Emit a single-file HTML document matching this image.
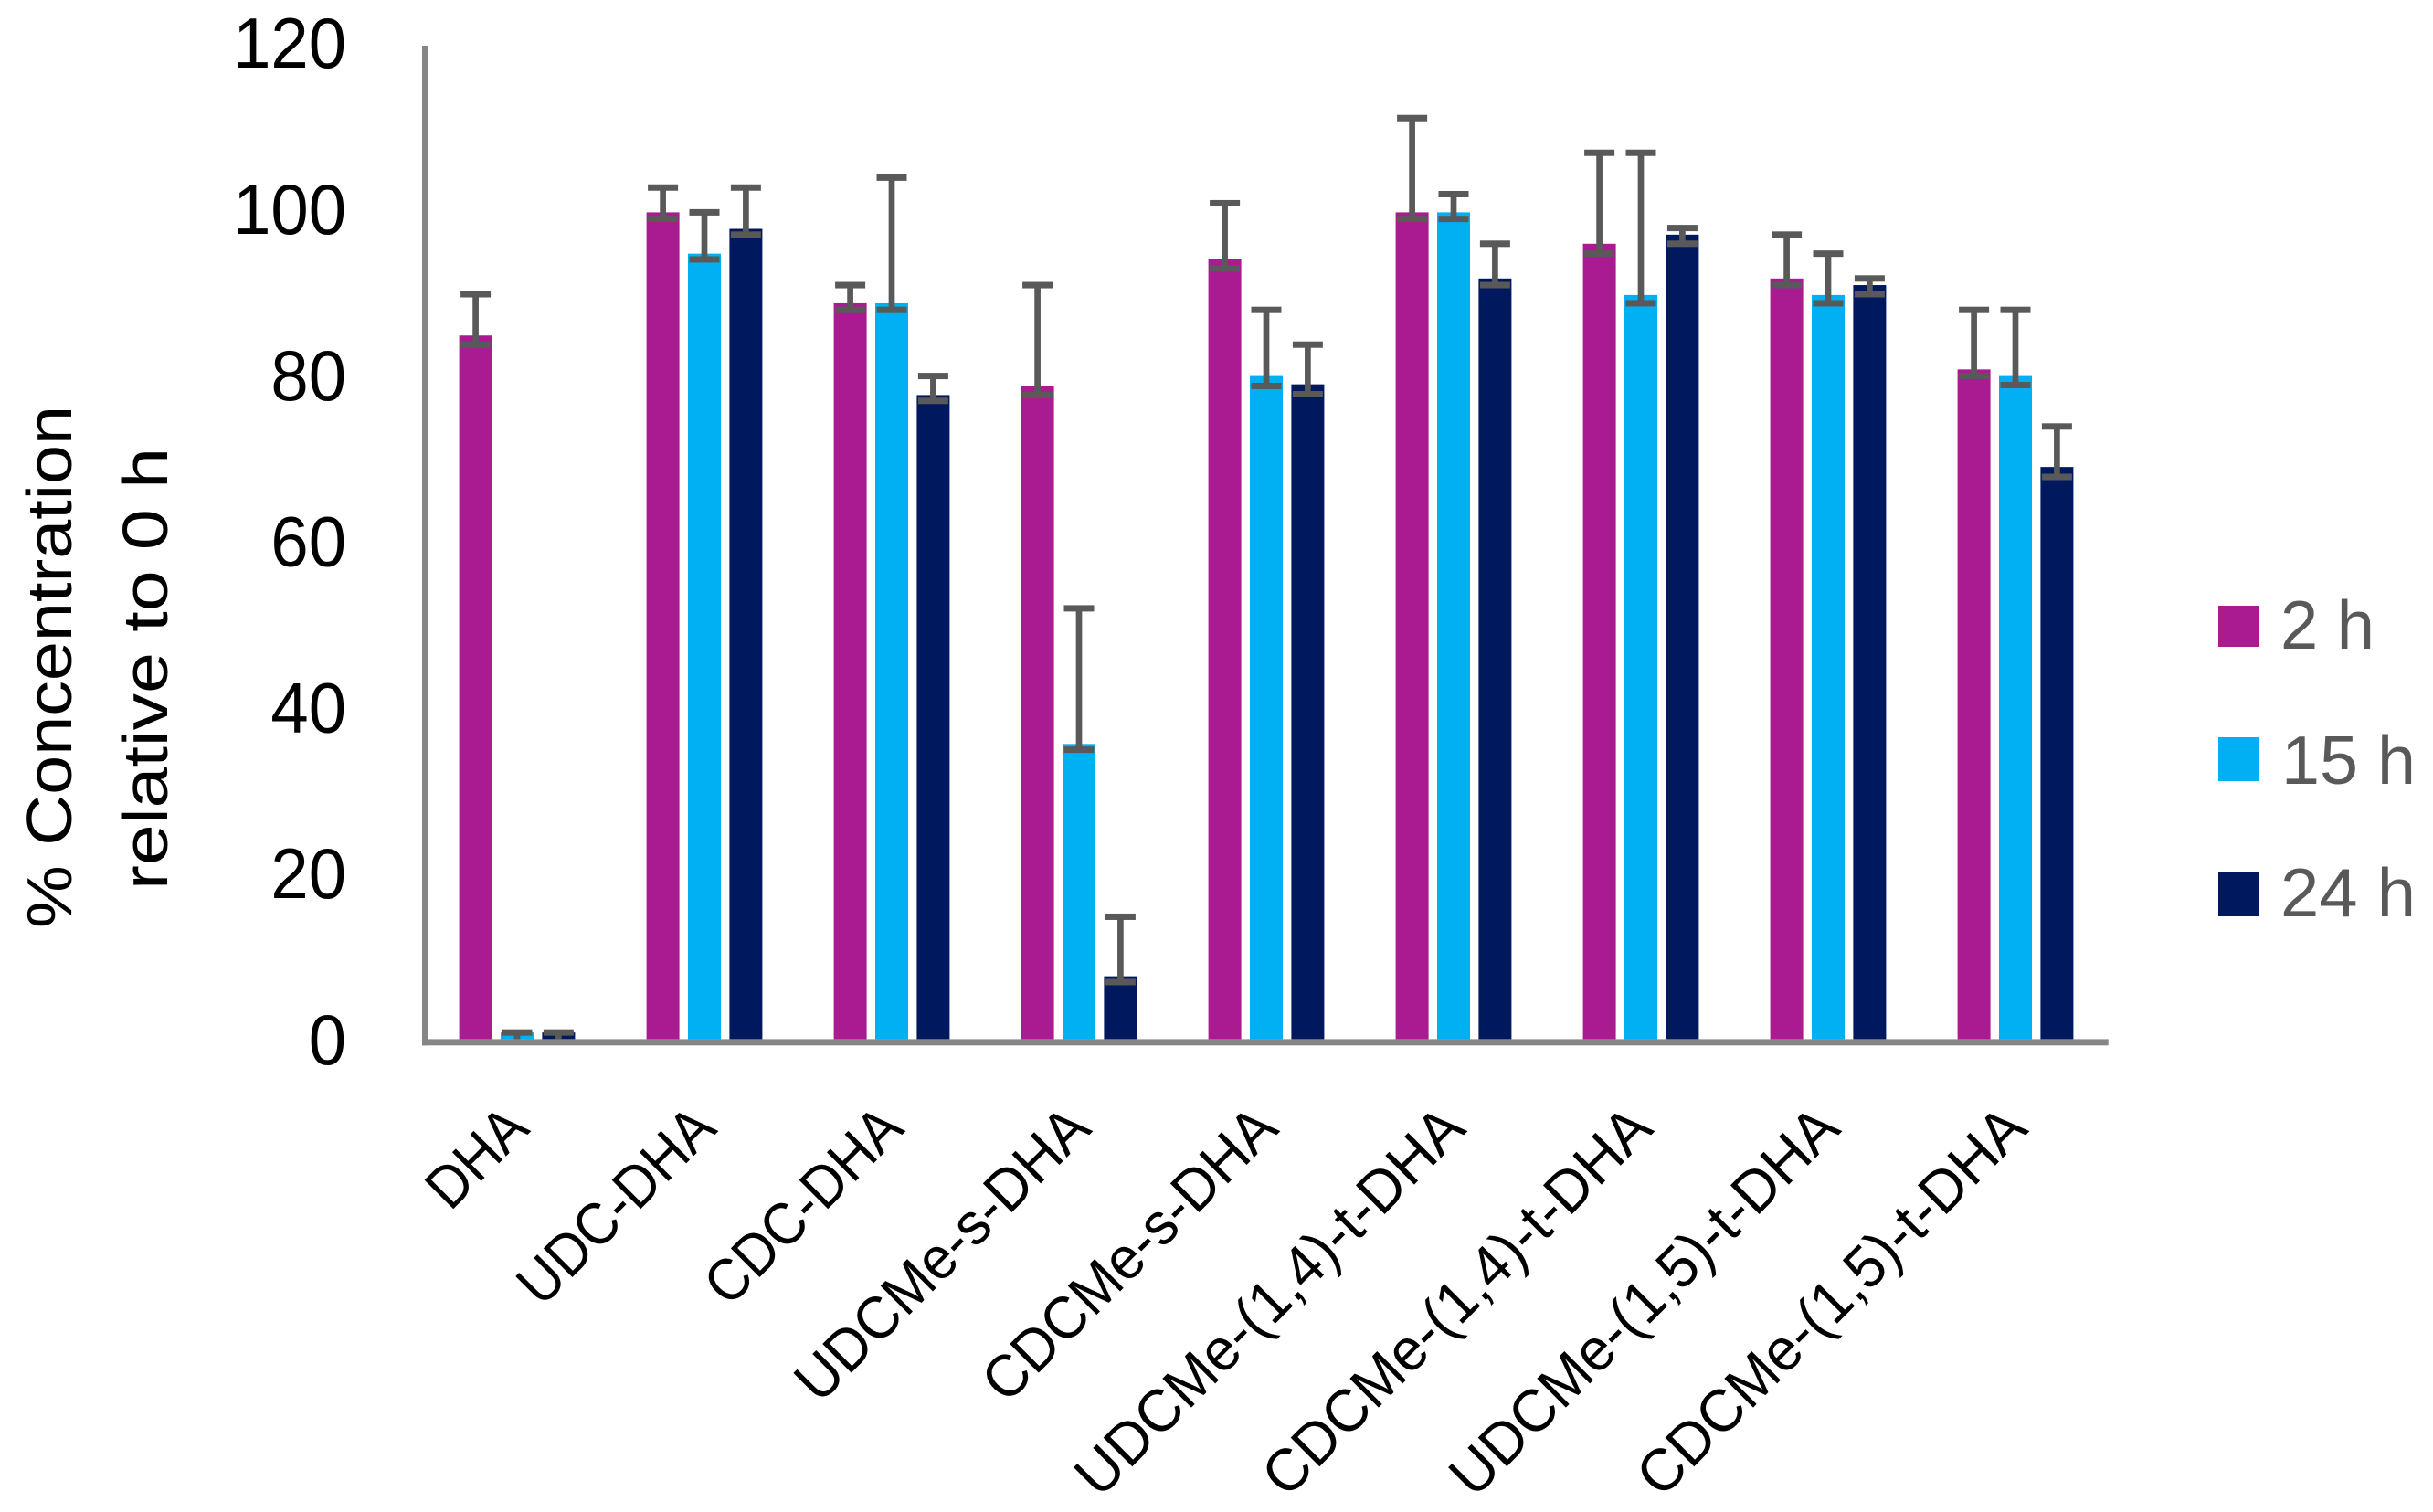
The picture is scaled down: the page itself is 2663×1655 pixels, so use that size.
<!DOCTYPE html>
<html lang="en">
<head>
<meta charset="utf-8">
<title>% Concentration relative to 0 h</title>
<style>
html,body{margin:0;padding:0;background:#fff;}
svg{display:block;font-family:"Liberation Sans",sans-serif;}
</style>
</head>
<body>
<svg id="chart" xmlns="http://www.w3.org/2000/svg" width="2663" height="1655" viewBox="0 0 2663 1655">
<rect width="2663" height="1655" fill="#ffffff"/>
<g id="marks"></g>
<rect x="462" y="50" width="6.5" height="1094.3" fill="#868686"/>
<rect x="462" y="1137.4" width="1845.7" height="6.9" fill="#868686"/>
<g id="yticks"></g>
<g id="xticks"></g>
<g font-size="70" fill="#000000" text-anchor="middle">
<text transform="translate(78,730) rotate(-90)" textLength="572" lengthAdjust="spacingAndGlyphs">% Concentration</text>
<text transform="translate(183,732) rotate(-90)" textLength="484" lengthAdjust="spacingAndGlyphs">relative to 0 h</text>
</g>
<g font-size="75" fill="#595959">
<g>
<rect x="2428" y="663" width="45" height="45" fill="#AA1A91"/>
<text x="2496" y="710" textLength="103" lengthAdjust="spacingAndGlyphs">2 h</text>
</g>
<g>
<rect x="2428" y="807" width="45" height="48" fill="#00B0F2"/>
<text x="2497" y="858" textLength="147" lengthAdjust="spacingAndGlyphs">15 h</text>
</g>
<g>
<rect x="2428" y="955" width="45" height="48" fill="#00185E"/>
<text x="2496" y="1003" textLength="148" lengthAdjust="spacingAndGlyphs">24 h</text>
</g>
</g>
</svg>
<script>
const categories = ["DHA","UDC-DHA","CDC-DHA","UDCMe-s-DHA","CDCMe-s-DHA","UDCMe-(1,4)-t-DHA","CDCMe-(1,4)-t-DHA","UDCMe-(1,5)-t-DHA","CDCMe-(1,5)-t-DHA"];
const seriesNames = ["2h","15h","24h"];
const yTickValues = [0,20,40,60,80,100,120];
const values2h  = [85.1,100,89,79,94.3,100,96.2,92,81];
const values15h = [0.8,95,89,35.7,80.2,100,90,90,80.2];
const values24h = [0.8,98,77.9,7.6,79.2,92,97.3,91.2,69.2];
const upper2h  = [90.1,103,91.2,91.2,101.1,111.4,107.2,97.3,88.2];
const upper15h = [0.8,100,104.2,52.1,88.2,102.2,107.2,95,88.2];
const upper24h = [0.8,103,80.2,14.8,84,96.2,98.1,92,74.1];
const lower2h  = [84,99.2,88.2,77.9,93.2,99.2,95,91.2,80.2];
const lower15h = [0,94.3,88.2,35,79,99.2,89,89,79.1];
const lower24h = [0,97.3,77.2,6.9,78,91.2,96.2,90.1,68];

const seriesValues = [values2h, values15h, values24h];
const seriesUpper = [upper2h, upper15h, upper24h];
const seriesLower = [lower2h, lower15h, lower24h];
const seriesColors = ["#AA1A91","#00B0F2","#00185E"];

const NS = "http://www.w3.org/2000/svg";
function yScale(v){ return 1137.4 - v * 9.05; }
function yLabelPos(v){ return 1165 - v * 9.09; }
function groupCenter(i){ return 566 + i * 205; }
function barCenter(i, s){ return groupCenter(i) + (s - 1) * 45.4; }
function labelSqueeze(label){
  if (label.length <= 7) return 0.915;
  if (label.length <= 11) return 0.955;
  return 0.975;
}

const marks = document.getElementById("marks");
const barWidth = 36;
const capWidth = 33;
const capThick = 7;
const stemWidth = 6.7;
const errColor = "#595959";

categories.forEach(function(cat, i){
  seriesValues.forEach(function(vals, s){
    const cx = barCenter(i, s);
    const top = yScale(vals[i]);
    const bar = document.createElementNS(NS, "rect");
    bar.setAttribute("x", cx - barWidth / 2);
    bar.setAttribute("y", top);
    bar.setAttribute("width", barWidth);
    bar.setAttribute("height", yScale(0) - top);
    bar.setAttribute("fill", seriesColors[s]);
    
    
    marks.appendChild(bar);
  });
});
categories.forEach(function(cat, i){
  seriesValues.forEach(function(vals, s){
    const cx = barCenter(i, s);
    const upY = yScale(seriesUpper[s][i]);
    const lowVal = seriesLower[s][i];
    const lowY = yScale(lowVal);
    const stem = document.createElementNS(NS, "rect");
    stem.setAttribute("x", cx - stemWidth / 2);
    stem.setAttribute("y", upY);
    stem.setAttribute("width", stemWidth);
    stem.setAttribute("height", lowY - upY);
    stem.setAttribute("fill", errColor);
    
    
    marks.appendChild(stem);

    const capTop = document.createElementNS(NS, "rect");
    capTop.setAttribute("x", cx - capWidth / 2);
    capTop.setAttribute("y", upY - capThick / 2);
    capTop.setAttribute("width", capWidth);
    capTop.setAttribute("height", capThick);
    capTop.setAttribute("fill", errColor);
    
    
    marks.appendChild(capTop);

    if (lowVal > 0) {
      const capLow = document.createElementNS(NS, "rect");
      capLow.setAttribute("x", cx - capWidth / 2);
      capLow.setAttribute("y", lowY - capThick / 2);
      capLow.setAttribute("width", capWidth);
      capLow.setAttribute("height", capThick);
      capLow.setAttribute("fill", errColor);
      
      
      marks.appendChild(capLow);
    }
  });
});

const yticks = document.getElementById("yticks");
yTickValues.forEach(function(v){
  const label = String(v);
  const t = document.createElementNS(NS, "text");
  t.setAttribute("x", 379);
  t.setAttribute("y", yLabelPos(v));
  t.setAttribute("text-anchor", "end");
  t.setAttribute("font-size", "78");
  t.setAttribute("fill", "#000000");
  t.setAttribute("textLength", label.length * 41.3);
  t.setAttribute("lengthAdjust", "spacingAndGlyphs");
  
  
  t.textContent = label;
  yticks.appendChild(t);
});

const xticks = document.getElementById("xticks");
categories.forEach(function(cat, i){
  const t = document.createElementNS(NS, "text");
  const ax = groupCenter(i) + 15.5;
  const ay = 1238;
  t.setAttribute("transform", "translate(" + ax + "," + ay + ") rotate(-45) scale(" + labelSqueeze(cat) + ",1)");
  t.setAttribute("text-anchor", "end");
  t.setAttribute("font-size", "65");
  t.setAttribute("fill", "#000000");
  
  
  t.textContent = cat;
  xticks.appendChild(t);
});
</script>
</body>
</html>
